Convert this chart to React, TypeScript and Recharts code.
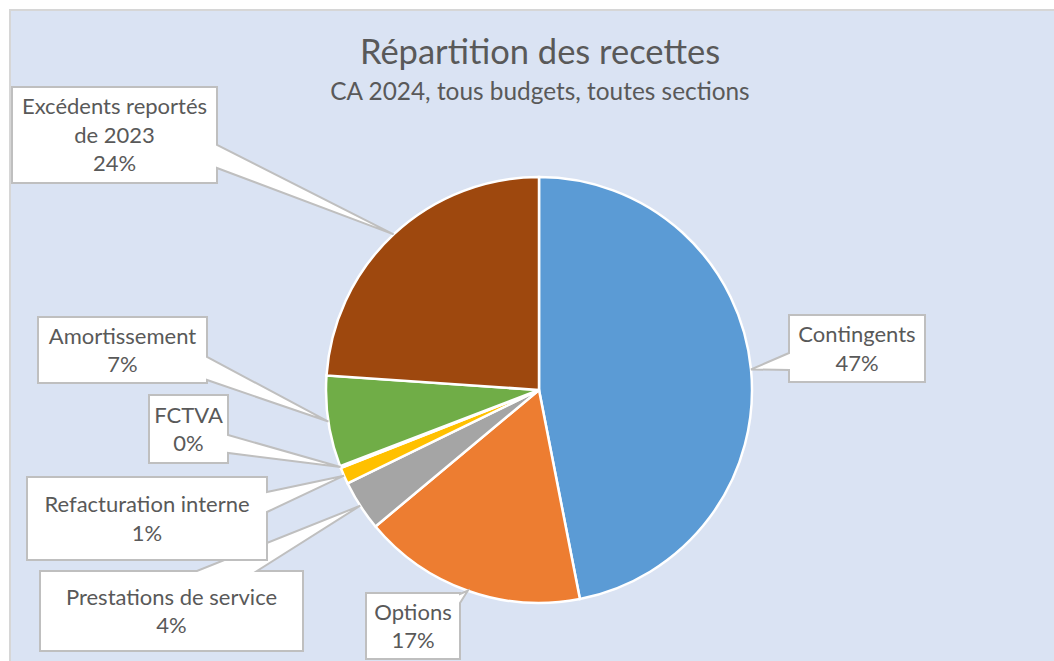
import React from 'react';
import { PieChart, Pie, Cell } from 'recharts';

const categories = [
  'Contingents',
  'Options',
  'Prestations de service',
  'Refacturation interne',
  'FCTVA',
  'Amortissement',
  'Excédents reportés de 2023',
];
const values = [46.9, 17.0, 3.85, 1.25, 0.15, 6.9, 23.9];
const colors = ['#5B9BD5', '#ED7D31', '#A5A5A5', '#FFC000', '#4472C4', '#70AD47', '#9E480E'];

const title = 'Répartition des recettes';
const subtitle = 'CA 2024, tous budgets, toutes sections';

// Callout box layout (position of each label box and where its pointer joins the box)
type Box = { x: number; y: number; w: number; h: number; side: 'left' | 'right' | 'top'; b1: number; b2: number; lines?: string[] };
const calloutBoxes: Box[] = [
  { x: 789, y: 315, w: 136, h: 67, side: 'left', b1: 353, b2: 370 },
  { x: 366, y: 593, w: 94, h: 66, side: 'right', b1: 594, b2: 603 },
  { x: 40, y: 571, w: 263, h: 80, side: 'top', b1: 197, b2: 257 },
  { x: 27, y: 477, w: 240, h: 83, side: 'right', b1: 492, b2: 512 },
  { x: 149, y: 395, w: 79, h: 68, side: 'right', b1: 435, b2: 453 },
  { x: 38, y: 317, w: 169, h: 66, side: 'right', b1: 357, b2: 380 },
  { x: 12, y: 87, w: 205, h: 96, side: 'right', b1: 145, b2: 168, lines: ['Excédents reportés', 'de 2023'] },
];

const data = categories.map((name, i) => ({ name, value: values[i] }));

const FONT = 'Lato, "Open Sans", sans-serif';
const TEXT = '#595959';
const RAD = Math.PI / 180;

function calloutPath(b: Box, tx: number, ty: number) {
  const x0 = b.x, y0 = b.y, x1 = b.x + b.w, y1 = b.y + b.h;
  if (b.side === 'left') {
    return `M${x0},${y0} L${x1},${y0} L${x1},${y1} L${x0},${y1} L${x0},${b.b2} L${tx},${ty} L${x0},${b.b1} Z`;
  }
  if (b.side === 'right') {
    return `M${x0},${y0} L${x1},${y0} L${x1},${b.b1} L${tx},${ty} L${x1},${b.b2} L${x1},${y1} L${x0},${y1} Z`;
  }
  return `M${x0},${y0} L${b.b1},${y0} L${tx},${ty} L${b.b2},${y0} L${x1},${y0} L${x1},${y1} L${x0},${y1} Z`;
}

const renderCallout = (props: any) => {
  const { cx, cy, midAngle, outerRadius, index, percent, name } = props;
  const b = calloutBoxes[index];
  if (!b) return null;
  const tx = cx + outerRadius * Math.cos(-midAngle * RAD);
  const ty = cy + outerRadius * Math.sin(-midAngle * RAD);
  const lines = [...(b.lines || [name]), `${Math.round(percent * 100)}%`];
  const fs = 22;
  const lh = 28.5;
  const centerY = b.y + b.h / 2;
  const first = centerY - ((lines.length - 1) * lh) / 2 + fs * 0.36;
  return (
    <g>
      <path d={calloutPath(b, tx, ty)} fill="#FFFFFF" stroke="#BFBFBF" strokeWidth={2} strokeLinejoin="miter" />
      {lines.map((l, i) => (
        <text key={i} x={b.x + b.w / 2} y={first + i * lh} textAnchor="middle" fontFamily={FONT} fontSize={fs} fill={TEXT}>
          {l}
        </text>
      ))}
    </g>
  );
};

export default function App() {
  return (
    <div style={{ position: 'absolute', left: 0, top: 0, width: 1054, height: 661, background: '#FFFFFF', overflow: 'hidden' }}>
      <div
        style={{
          position: 'absolute',
          left: 9,
          top: 9,
          width: 1045,
          height: 652,
          boxSizing: 'border-box',
          background: '#DAE3F3',
          borderLeft: '2px solid #D6D6D6',
          borderTop: '2px solid #D6D6D6',
        }}
      />
      <svg width={1054} height={661} style={{ position: 'absolute', left: 0, top: 0 }}>
        <text x={540} y={64} textAnchor="middle" fontFamily={FONT} fontSize={34.5} fill={TEXT}>
          {title}
        </text>
        <text x={540} y={100} textAnchor="middle" fontFamily={FONT} fontSize={24.4} fill={TEXT}>
          {subtitle}
        </text>
      </svg>
      <div style={{ position: 'absolute', left: 0, top: 0 }}>
        <PieChart width={1054} height={661} margin={{ top: 0, right: 0, bottom: 0, left: 0 }}>
          <Pie
            data={data}
            dataKey="value"
            nameKey="name"
            cx={539}
            cy={390}
            outerRadius={213}
            startAngle={90}
            endAngle={-270}
            stroke="#FFFFFF"
            strokeWidth={2.5}
            label={renderCallout}
            labelLine={false}
            isAnimationActive={false}
          >
            {data.map((d, i) => (
              <Cell key={d.name} fill={colors[i]} />
            ))}
          </Pie>
        </PieChart>
      </div>
    </div>
  );
}
